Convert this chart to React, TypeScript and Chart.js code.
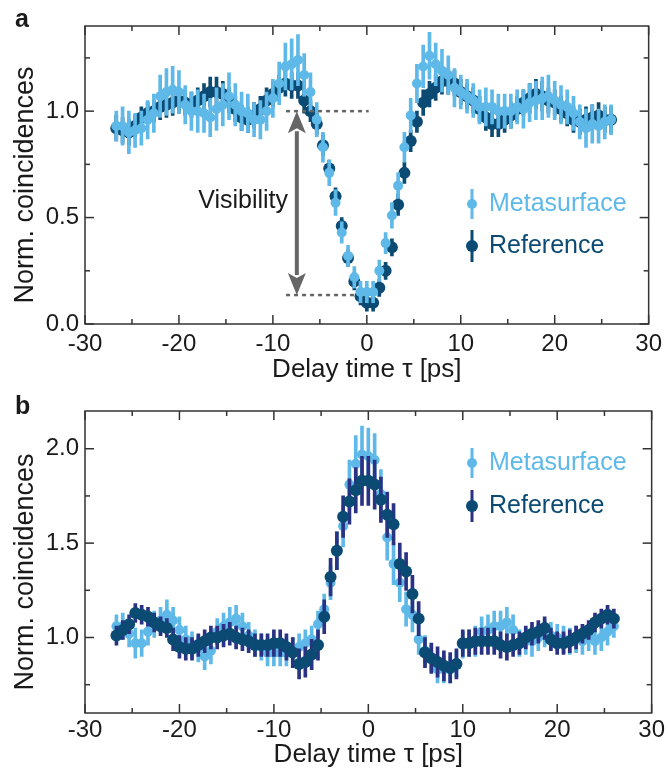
import React, { useEffect, useRef } from "react";
import { Chart, registerables } from "chart.js";
Chart.register(...registerables);

const FONT = '"Liberation Sans", Arial, Helvetica, sans-serif';
const META = "#5FB9E8";
const REF = "#0B4A73";
const REF_BAR_B = "#2A3283";
const TEXT = "#1a1a1a";

// Delay time τ [ps]
const delay = [
  -26.67, -26, -25.33, -24.67, -24, -23.33, -22.67, -22, -21.33, -20.67,
  -20, -19.33, -18.67, -18, -17.33, -16.67, -16, -15.33, -14.67, -14,
  -13.33, -12.67, -12, -11.33, -10.67, -10, -9.33, -8.67, -8, -7.33,
  -6.67, -6, -5.33, -4.67, -4, -3.33, -2.67, -2, -1.33, -0.67,
  0, 0.67, 1.33, 2, 2.67, 3.33, 4, 4.67, 5.33, 6,
  6.67, 7.33, 8, 8.67, 9.33, 10, 10.67, 11.33, 12, 12.67,
  13.33, 14, 14.67, 15.33, 16, 16.67, 17.33, 18, 18.67, 19.33,
  20, 20.67, 21.33, 22, 22.67, 23.33, 24, 24.67, 25.33, 26,
];

// Panel a
const metaA = [
  0.93, 0.93, 0.90, 0.91, 0.92, 0.96, 0.99, 1.07, 1.09, 1.10,
  1.09, 1.03, 1.00, 1.00, 0.99, 0.97, 1.01, 1.03, 1.07, 1.03,
  1.00, 0.99, 0.96, 0.96, 1.00, 1.06, 1.13, 1.21, 1.22, 1.24,
  1.17, 1.09, 0.96, 0.83, 0.71, 0.57, 0.43, 0.32, 0.22, 0.15,
  0.15, 0.15, 0.25, 0.38, 0.51, 0.65, 0.83, 0.98, 1.13, 1.21,
  1.26, 1.22, 1.19, 1.17, 1.11, 1.09, 1.07, 1.05, 1.02, 1.02,
  1.02, 1.00, 1.00, 1.00, 1.02, 1.01, 1.04, 1.05, 1.06, 1.07,
  1.05, 1.03, 1.02, 0.99, 0.95, 0.92, 0.94, 0.93, 0.95, 0.96,
];
const metaAErr = [
  0.07, 0.09, 0.10, 0.08, 0.08, 0.09, 0.09, 0.10, 0.11, 0.11,
  0.10, 0.09, 0.09, 0.10, 0.09, 0.09, 0.10, 0.10, 0.11, 0.10,
  0.09, 0.09, 0.08, 0.09, 0.09, 0.09, 0.10, 0.11, 0.12, 0.12,
  0.10, 0.09, 0.08, 0.07, 0.06, 0.06, 0.05, 0.05, 0.05, 0.05,
  0.05, 0.05, 0.05, 0.05, 0.06, 0.06, 0.07, 0.08, 0.09, 0.10,
  0.11, 0.10, 0.10, 0.09, 0.09, 0.08, 0.08, 0.08, 0.08, 0.09,
  0.08, 0.08, 0.08, 0.08, 0.08, 0.09, 0.09, 0.09, 0.10, 0.10,
  0.09, 0.09, 0.08, 0.08, 0.08, 0.09, 0.09, 0.08, 0.08, 0.07,
];
const refA = [
  0.92, 0.91, 0.90, 0.93, 0.97, 0.99, 1.00, 1.02, 1.03, 1.04,
  1.05, 1.04, 1.03, 1.05, 1.07, 1.09, 1.09, 1.08, 1.05, 1.01,
  0.97, 0.96, 0.98, 1.01, 1.05, 1.08, 1.11, 1.13, 1.12, 1.12,
  1.05, 1.00, 0.94, 0.84, 0.73, 0.60, 0.46, 0.31, 0.20, 0.13,
  0.10, 0.10, 0.17, 0.25, 0.36, 0.56, 0.71, 0.86, 0.95, 1.04,
  1.08, 1.11, 1.14, 1.14, 1.13, 1.09, 1.07, 1.05, 1.01, 0.97,
  0.94, 0.94, 0.96, 0.98, 1.01, 1.04, 1.06, 1.08, 1.07, 1.05,
  1.04, 1.01, 0.99, 0.96, 0.95, 0.96, 0.97, 0.98, 0.96, 0.96,
];
const refAErr = [
  0.06, 0.06, 0.06, 0.05, 0.05, 0.05, 0.05, 0.06, 0.06, 0.06,
  0.06, 0.06, 0.06, 0.06, 0.06, 0.07, 0.07, 0.06, 0.06, 0.06,
  0.06, 0.06, 0.06, 0.06, 0.06, 0.06, 0.06, 0.06, 0.06, 0.06,
  0.06, 0.05, 0.05, 0.05, 0.04, 0.04, 0.04, 0.04, 0.04, 0.04,
  0.04, 0.04, 0.04, 0.04, 0.04, 0.05, 0.05, 0.05, 0.05, 0.06,
  0.06, 0.06, 0.06, 0.06, 0.06, 0.06, 0.06, 0.06, 0.06, 0.06,
  0.06, 0.06, 0.06, 0.06, 0.06, 0.06, 0.07, 0.07, 0.07, 0.06,
  0.06, 0.06, 0.06, 0.06, 0.06, 0.06, 0.06, 0.06, 0.06, 0.06,
];

// Panel b
const metaB = [
  1.06, 1.06, 1.02, 0.97, 0.97, 1.03, 1.07, 1.09, 1.12, 1.09,
  1.04, 0.99, 0.96, 0.94, 0.90, 0.93, 1.03, 1.06, 1.08, 1.10,
  1.06, 1.01, 0.97, 0.95, 0.92, 0.92, 0.92, 0.92, 0.93, 0.95,
  0.97, 0.99, 1.07, 1.15, 1.29, 1.46, 1.59, 1.81, 1.92, 1.97,
  1.96, 1.94, 1.76, 1.53, 1.39, 1.29, 1.15, 1.12, 0.99, 0.93,
  0.89, 0.83, 0.83, 0.83, 0.86, 0.96, 0.97, 0.98, 1.03, 1.04,
  1.06, 1.06, 1.08, 1.04, 0.97, 0.98, 0.98, 1.00, 1.02, 1.01,
  1.00, 0.99, 0.98, 0.99, 0.98, 1.00, 0.98, 1.00, 1.03, 1.06,
];
const metaBErr = [
  0.06, 0.07, 0.07, 0.08, 0.07, 0.07, 0.07, 0.07, 0.08, 0.07,
  0.07, 0.07, 0.07, 0.07, 0.07, 0.07, 0.07, 0.07, 0.08, 0.07,
  0.07, 0.07, 0.07, 0.07, 0.07, 0.07, 0.07, 0.07, 0.07, 0.07,
  0.07, 0.07, 0.07, 0.08, 0.09, 0.10, 0.11, 0.13, 0.15, 0.15,
  0.15, 0.14, 0.13, 0.12, 0.11, 0.10, 0.09, 0.09, 0.08, 0.08,
  0.07, 0.07, 0.07, 0.07, 0.07, 0.07, 0.07, 0.08, 0.08, 0.08,
  0.08, 0.08, 0.08, 0.08, 0.07, 0.07, 0.08, 0.07, 0.07, 0.07,
  0.07, 0.07, 0.07, 0.07, 0.07, 0.07, 0.07, 0.07, 0.07, 0.06,
];
const refB = [
  1.01, 1.04, 1.07, 1.13, 1.12, 1.11, 1.08, 1.06, 1.05, 0.99,
  0.95, 0.94, 0.94, 0.96, 0.98, 1.00, 1.00, 1.01, 1.02, 1.00,
  0.99, 0.98, 0.96, 0.96, 0.96, 0.97, 0.97, 0.95, 0.92, 0.86,
  0.87, 0.91, 0.96, 1.11, 1.32, 1.46, 1.64, 1.72, 1.78, 1.83,
  1.83, 1.81, 1.73, 1.65, 1.60, 1.39, 1.35, 1.23, 1.10, 0.92,
  0.89, 0.87, 0.85, 0.84, 0.86, 0.97, 0.97, 0.98, 0.98, 0.98,
  0.98, 0.96, 0.95, 0.96, 0.97, 1.00, 1.02, 1.03, 1.05, 0.99,
  0.97, 0.97, 0.98, 1.00, 1.02, 1.04, 1.08, 1.10, 1.12, 1.10,
];
const refBErr = [
  0.05, 0.05, 0.05, 0.05, 0.05, 0.05, 0.05, 0.05, 0.05, 0.06,
  0.06, 0.06, 0.06, 0.06, 0.06, 0.06, 0.06, 0.06, 0.06, 0.06,
  0.06, 0.06, 0.06, 0.06, 0.06, 0.07, 0.07, 0.07, 0.08, 0.08,
  0.08, 0.08, 0.08, 0.09, 0.10, 0.10, 0.11, 0.12, 0.12, 0.13,
  0.13, 0.13, 0.12, 0.12, 0.11, 0.11, 0.10, 0.10, 0.09, 0.08,
  0.08, 0.08, 0.08, 0.08, 0.08, 0.07, 0.07, 0.07, 0.07, 0.07,
  0.07, 0.07, 0.07, 0.06, 0.06, 0.06, 0.06, 0.06, 0.06, 0.06,
  0.06, 0.06, 0.06, 0.06, 0.05, 0.05, 0.05, 0.05, 0.05, 0.05,
];

// Visibility annotation (panel a)
const visTop = 1.0;
const visBottom = 0.136;
const visArrowX = -7.45;
const visTopLine = [-8.6, 0.2];
const visBottomLine = [-8.6, -1.2];

const xRange = [-30, 30];
const yRangeA = [0, 1.4];
const yRangeB = [0.6, 2.2];
const seriesNames = ["Metasurface", "Reference"];
const xTitle = "Delay time τ [ps]";
const yTitle = "Norm. coincidences";

const isMult = (v: number, m: number) => Math.abs(v / m - Math.round(v / m)) < 1e-6;

const framePlugin = {
  id: "frame",
  afterDatasetsDraw(chart: any) {
    const { ctx, chartArea: a, scales } = chart;
    const xs = scales.x;
    const ys = scales.y;
    ctx.save();
    ctx.strokeStyle = "#333";
    ctx.lineWidth = 1.5;
    ctx.strokeRect(a.left, a.top, a.right - a.left, a.bottom - a.top);
    const line = (x1: number, y1: number, x2: number, y2: number) => {
      ctx.beginPath();
      ctx.moveTo(x1, y1);
      ctx.lineTo(x2, y2);
      ctx.stroke();
    };
    xs.ticks.forEach((t: any) => {
      const v = t.value;
      if (!isMult(v, 5)) return;
      const L = isMult(v, 10) ? 9 : 5;
      const p = xs.getPixelForValue(v);
      line(p, a.bottom, p, a.bottom - L);
      line(p, a.top, p, a.top + L);
    });
    ys.ticks.forEach((t: any) => {
      const v = t.value;
      if (!isMult(v, 0.25)) return;
      const L = isMult(v, 0.5) ? 9 : 5;
      const p = ys.getPixelForValue(v);
      line(a.left, p, a.left + L, p);
      line(a.right, p, a.right - L, p);
    });
    ctx.restore();
  },
};

function drawLegendEntry(ctx: any, x: number, y: number, color: string, barColor: string, r: number, half: number, label: string) {
  ctx.save();
  ctx.strokeStyle = barColor;
  ctx.lineWidth = 3;
  ctx.beginPath();
  ctx.moveTo(x, y - half);
  ctx.lineTo(x, y + half);
  ctx.stroke();
  ctx.fillStyle = color;
  ctx.beginPath();
  ctx.arc(x, y, r, 0, Math.PI * 2);
  ctx.fill();
  ctx.font = `25px ${FONT}`;
  ctx.textBaseline = "middle";
  ctx.textAlign = "left";
  ctx.fillText(label, x + 17, y);
  ctx.restore();
}

type PanelProps = {
  label: string;
  height: number;
  xAxisHeight: number;
  xTitlePad: number;
  xTickPad: number;
  yTitleY: number;
  yRange: number[];
  meta: number[];
  metaErr: number[];
  refv: number[];
  refErr: number[];
  refBarColor: string;
  metaOnTop: boolean;
  legendY: number[];
  visibility: boolean;
};

function Panel(p: PanelProps) {
  const ref = useRef<HTMLCanvasElement>(null);
  useEffect(() => {
    const canvas = ref.current!;
    const pts = (vals: number[]) => delay.map((x, i) => ({ x, y: vals[i] }));
    const bars = (vals: number[], errs: number[]) =>
      delay.map((x, i) => ({ x, y: [vals[i] - errs[i], vals[i] + errs[i]] }));
    const metaPts: any = {
      type: "scatter",
      label: seriesNames[0],
      data: pts(p.meta),
      pointRadius: 5,
      pointHoverRadius: 5,
      backgroundColor: META,
      borderWidth: 0,
    };
    const metaBars: any = {
      type: "bar",
      data: bars(p.meta, p.metaErr),
      backgroundColor: META,
      grouped: false,
      maxBarThickness: 3,
      barThickness: 3,
      borderWidth: 0,
    };
    const refPts: any = {
      type: "scatter",
      label: seriesNames[1],
      data: pts(p.refv),
      pointRadius: 6,
      pointHoverRadius: 6,
      backgroundColor: REF,
      borderWidth: 0,
    };
    const refBars: any = {
      type: "bar",
      data: bars(p.refv, p.refErr),
      backgroundColor: p.refBarColor,
      grouped: false,
      maxBarThickness: 3,
      barThickness: 3,
      borderWidth: 0,
    };
    const datasets = p.metaOnTop
      ? [metaPts, metaBars, refPts, refBars]
      : [refPts, refBars, metaPts, metaBars];

    const decor = {
      id: "decor",
      afterDraw(chart: any) {
        const { ctx, scales } = chart;
        ctx.save();
        ctx.fillStyle = TEXT;
        ctx.font = `bold 25px ${FONT}`;
        ctx.textBaseline = "alphabetic";
        ctx.textAlign = "left";
        ctx.fillText(p.label, 15, p.label === "a" ? 27 : 29);
        // y-axis title
        ctx.translate(33, p.yTitleY);
        ctx.rotate(-Math.PI / 2);
        ctx.font = `27px ${FONT}`;
        ctx.textAlign = "center";
        ctx.textBaseline = "alphabetic";
        ctx.fillText(yTitle, 0, 0);
        ctx.restore();
        drawLegendEntry(ctx, 472, p.legendY[0], META, META, 5, 15, seriesNames[0]);
        drawLegendEntry(ctx, 472, p.legendY[1], REF, p.refBarColor, 6, 16, seriesNames[1]);
        if (p.visibility) {
          const xs = scales.x;
          const ys = scales.y;
          ctx.save();
          ctx.strokeStyle = "#666";
          ctx.lineWidth = 2.5;
          ctx.setLineDash([4, 4]);
          const yt = ys.getPixelForValue(visTop);
          const yb = ys.getPixelForValue(visBottom);
          ctx.beginPath();
          ctx.moveTo(xs.getPixelForValue(visTopLine[0]), yt);
          ctx.lineTo(xs.getPixelForValue(visTopLine[1]), yt);
          ctx.stroke();
          ctx.beginPath();
          ctx.moveTo(xs.getPixelForValue(visBottomLine[0]), yb);
          ctx.lineTo(xs.getPixelForValue(visBottomLine[1]), yb);
          ctx.stroke();
          ctx.setLineDash([]);
          const ax = xs.getPixelForValue(visArrowX);
          const hl = 22;
          const hw = 9;
          ctx.lineWidth = 4;
          ctx.beginPath();
          ctx.moveTo(ax, yt + hl - 2);
          ctx.lineTo(ax, yb - hl + 2);
          ctx.stroke();
          ctx.fillStyle = "#666";
          ctx.beginPath();
          ctx.moveTo(ax, yt);
          ctx.lineTo(ax - hw, yt + hl);
          ctx.lineTo(ax, yt + hl - 5);
          ctx.lineTo(ax + hw, yt + hl);
          ctx.closePath();
          ctx.fill();
          ctx.beginPath();
          ctx.moveTo(ax, yb);
          ctx.lineTo(ax - hw, yb - hl);
          ctx.lineTo(ax, yb - hl + 5);
          ctx.lineTo(ax + hw, yb - hl);
          ctx.closePath();
          ctx.fill();
          ctx.fillStyle = TEXT;
          ctx.font = `25px ${FONT}`;
          ctx.textAlign = "right";
          ctx.textBaseline = "middle";
          ctx.fillText("Visibility", 288, 201);
          ctx.restore();
        }
      },
    };

    const chart = new Chart(canvas, {
      type: "scatter",
      data: { datasets },
      options: {
        responsive: false,
        animation: false,
        events: [],
        layout: { padding: { top: 26, right: 16, left: 0, bottom: 0 } },
        plugins: { legend: { display: false }, tooltip: { enabled: false } },
        scales: {
          x: {
            type: "linear",
            min: xRange[0],
            max: xRange[1],
            offset: false,
            grid: { display: false, drawTicks: false, offset: false },
            border: { display: false },
            ticks: {
              stepSize: 5,
              autoSkip: false,
              maxRotation: 0,
              padding: p.xTickPad,
              color: TEXT,
              font: { family: FONT, size: 24 },
              callback: (v: any) => (isMult(v, 10) ? String(v) : ""),
            },
            title: {
              display: true,
              text: xTitle,
              color: TEXT,
              font: { family: FONT, size: 26 },
              padding: { top: 0, bottom: p.xTitlePad },
            },
            afterFit: (s: any) => {
              s.height = p.xAxisHeight;
            },
          },
          y: {
            type: "linear",
            min: p.yRange[0],
            max: p.yRange[1],
            grid: { display: false, drawTicks: false },
            border: { display: false },
            ticks: {
              stepSize: 0.25,
              autoSkip: false,
              padding: 6,
              color: TEXT,
              font: { family: FONT, size: 24 },
              callback: (v: any) => (isMult(v, 0.5) ? Number(v).toFixed(1) : ""),
            },
            title: { display: false },
            afterFit: (s: any) => {
              s.width = 85;
            },
          },
        },
      } as any,
      plugins: [framePlugin, decor],
    });
    return () => chart.destroy();
  }, []);
  return <canvas ref={ref} width={668} height={p.height} style={{ display: "block" }} />;
}

export default function App() {
  return (
    <div style={{ position: "absolute", left: 0, top: 0, width: 668, height: 771, background: "#fff" }}>
      <Panel
        label="a"
        height={385}
        xAxisHeight={61}
        xTitlePad={0}
        xTickPad={6}
        yTitleY={185}
        yRange={yRangeA}
        meta={metaA}
        metaErr={metaAErr}
        refv={refA}
        refErr={refAErr}
        refBarColor={REF}
        metaOnTop={true}
        legendY={[204, 246]}
        visibility={true}
      />
      <Panel
        label="b"
        height={386}
        xAxisHeight={58}
        xTitlePad={1}
        xTickPad={3}
        yTitleY={187}
        yRange={yRangeB}
        meta={metaB}
        metaErr={metaBErr}
        refv={refB}
        refErr={refBErr}
        refBarColor={REF_BAR_B}
        metaOnTop={false}
        legendY={[78, 121]}
        visibility={false}
      />
    </div>
  );
}
